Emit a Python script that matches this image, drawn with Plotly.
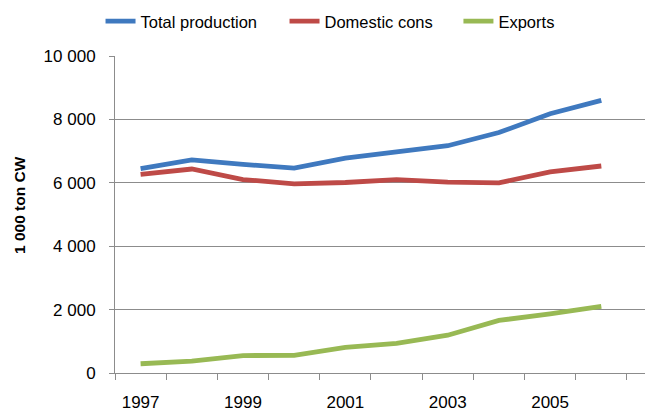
import plotly.graph_objects as go

years = [1997, 1998, 1999, 2000, 2001, 2002, 2003, 2004, 2005, 2006]
total_production = [6445, 6725, 6580, 6465, 6777, 6964, 7170, 7586, 8177, 8600]
domestic_cons = [6268, 6435, 6103, 5969, 6010, 6103, 6020, 6000, 6342, 6530]
exports = [292, 373, 550, 559, 807, 932, 1192, 1658, 1863, 2102]

series_names = ["Total production", "Domestic cons", "Exports"]
series_colors = ["#3F79BF", "#BE4A47", "#98B954"]
series_legends = ["legend", "legend", "legend2"]
x_tick_vals = [1997, 1999, 2001, 2003, 2005]
x_tick_text = ["1997", "1999", "2001", "2003", "2005"]
y_tick_vals = [0, 2000, 4000, 6000, 8000, 10000]

FONT = "Arial, Liberation Sans, sans-serif"
GRID = "#8C8C8C"

fig = go.Figure()
for name, vals, col, lg in zip(series_names, [total_production, domestic_cons, exports],
                               series_colors, series_legends):
    fig.add_trace(go.Scatter(x=years, y=vals, mode="lines", name=name, legend=lg,
                             line=dict(color=col, width=4.8)))

legend_common = dict(orientation="h", y=1.109, yanchor="middle", xanchor="left",
                     font=dict(size=16.5, family=FONT, color="#000000"),
                     bgcolor="rgba(0,0,0,0)")

fig.update_layout(
    width=645, height=412,
    margin=dict(l=115, r=0, t=56, b=36),
    paper_bgcolor="white", plot_bgcolor="white",
    font=dict(family=FONT, size=17, color="#000000"),
    separators=". ",
    showlegend=True,
    legend=dict(x=-0.0273, entrywidth=139, entrywidthmode="pixels", **legend_common),
    legend2=dict(x=0.648, **legend_common),
    annotations=[dict(text="<b>1 000 ton CW</b>", xref="paper", yref="paper",
                      x=-0.1805, y=0.531, textangle=-90, showarrow=False,
                      font=dict(size=15.5, family=FONT, color="#000000"),
                      xanchor="center", yanchor="middle")],
)

fig.update_xaxes(range=[1996.5, 1996.5 + (645 - 115) / 51.19],
                 tickvals=x_tick_vals, ticktext=x_tick_text, ticks="",
                 showgrid=False, zeroline=False,
                 showline=True, linecolor=GRID, linewidth=1,
                 ticklabelstandoff=14,
                 minor=dict(tickmode="linear", tick0=1996.5, dtick=1, ticks="outside",
                            ticklen=6, tickcolor=GRID, tickwidth=1, showgrid=False))
fig.update_yaxes(range=[0, 10000], tickvals=y_tick_vals, tickformat=",d",
                 showgrid=True, gridcolor=GRID, gridwidth=1, zeroline=False,
                 showline=True, linecolor=GRID, linewidth=1,
                 ticks="outside", ticklen=5, tickcolor=GRID, tickwidth=1,
                 ticklabelstandoff=10)

fig.write_html("out.html")
